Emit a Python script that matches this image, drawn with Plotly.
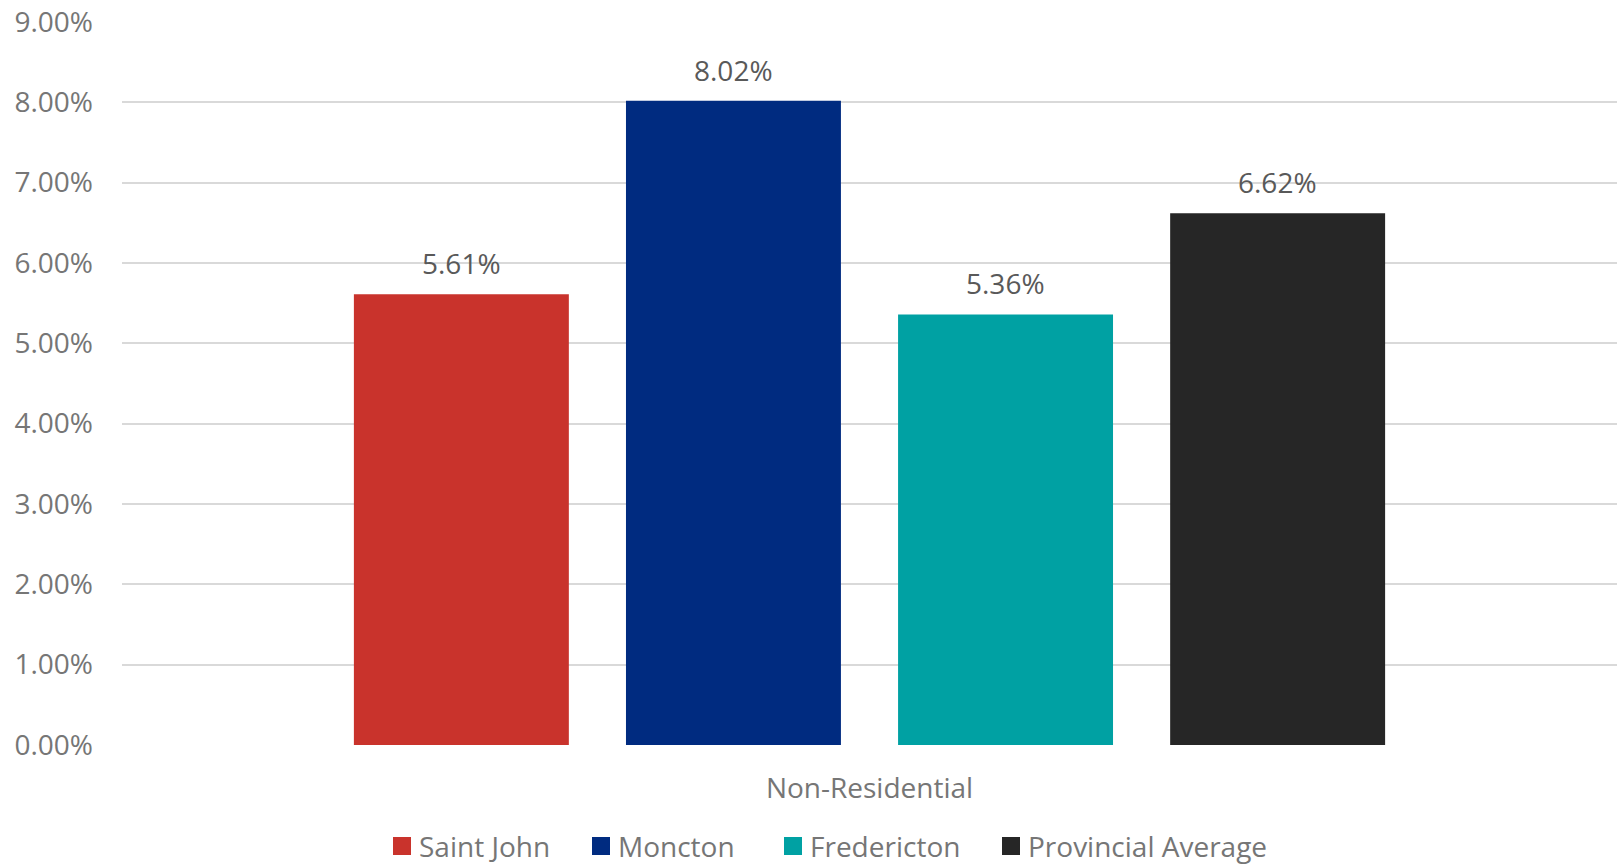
import plotly.graph_objects as go

# Non-residential rates by city
category = ["Non-Residential"]
series_names = ["Saint John", "Moncton", "Fredericton", "Provincial Average"]
series_values = [5.61, 8.02, 5.36, 6.62]
series_colors = ["#C9332C", "#002B80", "#00A1A3", "#262626"]

y_ticks = [0, 1, 2, 3, 4, 5, 6, 7, 8, 9]

W, H = 1619, 865
margin = dict(l=122, r=2, t=22, b=120)
bargap = 0.272
plot_w = W - margin["l"] - margin["r"]
plot_h = H - margin["t"] - margin["b"]
slot_px = plot_w * (1 - bargap) / len(series_names)

FONT = "Open Sans"
AXIS_GREY = "#767676"

fig = go.Figure()
for name, val, col in zip(series_names, series_values, series_colors):
    fig.add_trace(go.Bar(
        x=category, y=[val], name=name,
        marker=dict(color=col, line=dict(width=0)),
        hoverinfo="skip", showlegend=False,
    ))

# value labels above each bar, shifted to the bar's slot within the group
n = len(series_names)
for i, val in enumerate(series_values):
    fig.add_annotation(
        x=category[0], y=val, xref="x", yref="y",
        text=f"{val:.2f}%", showarrow=False,
        xanchor="center", yanchor="bottom",
        xshift=(i - (n - 1) / 2) * slot_px, yshift=10,
        font=dict(family=FONT, size=28, color="#595959"),
    )

# legend row beneath the axis: square swatch + label per series
legend_px_left = [393, 592, 784, 1002]   # swatch left edges, in page pixels
legend_px_mid_y = 846                     # row centre, in page pixels
swatch = 18


def px_to_paper_x(px):
    return (px - margin["l"]) / plot_w


def px_to_paper_y(py):
    return (H - margin["b"] - py) / plot_h


for name, col, left in zip(series_names, series_colors, legend_px_left):
    fig.add_shape(
        type="rect", xref="paper", yref="paper",
        x0=px_to_paper_x(left), x1=px_to_paper_x(left + swatch),
        y0=px_to_paper_y(legend_px_mid_y + swatch / 2),
        y1=px_to_paper_y(legend_px_mid_y - swatch / 2),
        fillcolor=col, line=dict(width=0), layer="above",
    )
    fig.add_annotation(
        xref="paper", yref="paper",
        x=px_to_paper_x(left + swatch + 6), y=px_to_paper_y(legend_px_mid_y),
        text=name, showarrow=False, xanchor="left", yanchor="middle",
        font=dict(family=FONT, size=28, color=AXIS_GREY),
    )

fig.update_layout(
    width=W, height=H,
    margin=margin,
    paper_bgcolor="white", plot_bgcolor="white",
    barmode="group", bargap=bargap, bargroupgap=0.21,
    font=dict(family=FONT, size=28, color=AXIS_GREY),
    showlegend=False,
    xaxis=dict(
        showgrid=False, showline=False, zeroline=False, automargin=False,
        tickfont=dict(family=FONT, size=28, color=AXIS_GREY),
        ticklabelstandoff=24,
    ),
    yaxis=dict(
        range=[0, 9], tickvals=y_ticks,
        ticktext=[f"{v:.2f}%" for v in y_ticks],
        showgrid=True, gridcolor="#D9D9D9", gridwidth=1.5,
        zeroline=False, showline=False, automargin=False,
        tickfont=dict(family=FONT, size=28, color=AXIS_GREY),
        ticklabelstandoff=28,
    ),
)

fig.write_html("out.html")
